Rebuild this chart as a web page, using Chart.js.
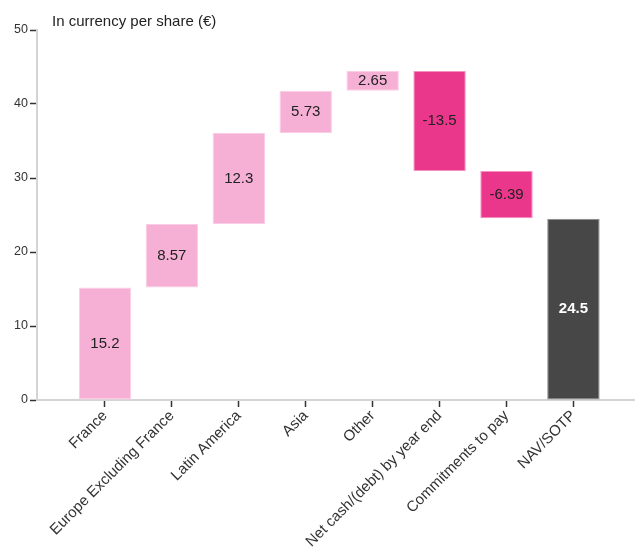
<!DOCTYPE html>
<html>
<head>
<meta charset="utf-8">
<script src="https://cdn.jsdelivr.net/npm/chart.js@4.4.1/dist/chart.umd.min.js"></script>
<style>
  html, body { margin: 0; padding: 0; background: #fff; }
  #wrap { width: 635px; height: 554px; }
</style>
</head>
<body>
<div id="wrap"><canvas id="waterfall" width="635" height="554"></canvas></div>
<script>
// Datos del gráfico
const categories = ['France', 'Europe Excluding France', 'Latin America', 'Asia', 'Other',
    'Net cash/(debt) by year end', 'Commitments to pay', 'NAV/SOTP'];
const values = [15.2, 8.57, 12.3, 5.73, 2.65, -13.5, -6.39, 24.5];
const kinds = ['up', 'up', 'up', 'up', 'up', 'down', 'down', 'total'];
const yTicks = [0, 10, 20, 30, 40, 50];
const axisTitle = 'In currency per share (€)';

const FONT = '"Liberation Sans", Arial, sans-serif';
const colorFor = { up: '#f7b0d5', down: '#eb378b', total: '#474747' };
const borderFor = { up: '#fbcde4', down: '#f590c2', total: '#8a8a8a' };

// construir barras flotantes del waterfall
let running = 0;
const bars = values.map((v, i) => {
    if (kinds[i] === 'total') return { x: i, y: [0, v] };
    const start = running;
    running += v;
    return { x: i, y: [start, running] };
});

const labelPlugin = {
    id: 'barLabels',
    afterDatasetsDraw(chart) {
        const ctx = chart.ctx;
        const meta = chart.getDatasetMeta(0);
        ctx.save();
        ctx.textAlign = 'center';
        ctx.textBaseline = 'middle';
        meta.data.forEach((bar, i) => {
            const total = kinds[i] === 'total';
            ctx.font = (total ? 'bold ' : '') + '15px ' + FONT;
            ctx.fillStyle = total ? '#ffffff' : '#222222';
            ctx.fillText(String(values[i]), bar.x, (bar.y + bar.base) / 2);
        });
        // titulo del eje
        ctx.textAlign = 'left';
        ctx.font = '15px ' + FONT;
        ctx.fillStyle = '#222222';
        ctx.fillText(axisTitle, 52, 22);
        ctx.restore();
    }
};

new Chart(document.getElementById('waterfall').getContext('2d'), {
    type: 'bar',
    data: {
        datasets: [{
            data: bars,
            backgroundColor: kinds.map(k => colorFor[k]),
            borderColor: kinds.map(k => borderFor[k]),
            borderWidth: 1,
            borderSkipped: false,
            barPercentage: 0.87,
            categoryPercentage: 0.9
        }]
    },
    options: {
        responsive: false,
        animation: false,
        layout: { padding: { top: 30, left: 0, right: 0, bottom: 0 } },
        plugins: { legend: { display: false }, tooltip: { enabled: false } },
        scales: {
            x: {
                type: 'linear',
                offset: false,
                min: -1.015,
                max: 7.92,
                afterBuildTicks(scale) {
                    scale.ticks = categories.map((_, i) => ({ value: i }));
                },
                afterFit(scale) { scale.height = 154; },
                ticks: {
                    autoSkip: false,
                    minRotation: 45,
                    maxRotation: 45,
                    padding: 0,
                    color: '#333',
                    font: { family: FONT, size: 15 },
                    callback: (v) => categories[v]
                },
                grid: { offset: false, drawOnChartArea: false, color: '#333', tickLength: 7, tickWidth: 1.5 },
                border: { color: '#d4d4d4', width: 2 }
            },
            y: {
                min: 0,
                max: 50,
                afterBuildTicks(scale) {
                    scale.ticks = yTicks.map(v => ({ value: v }));
                },
                afterFit(scale) { scale.width = 37; },
                ticks: {
                    padding: 2,
                    color: '#333',
                    font: { family: FONT, size: 12.5 }
                },
                grid: { drawOnChartArea: false, color: '#333', tickLength: 7, tickWidth: 1.5 },
                border: { color: '#d4d4d4', width: 2 }
            }
        }
    },
    plugins: [labelPlugin]
});
</script>
</body>
</html>
